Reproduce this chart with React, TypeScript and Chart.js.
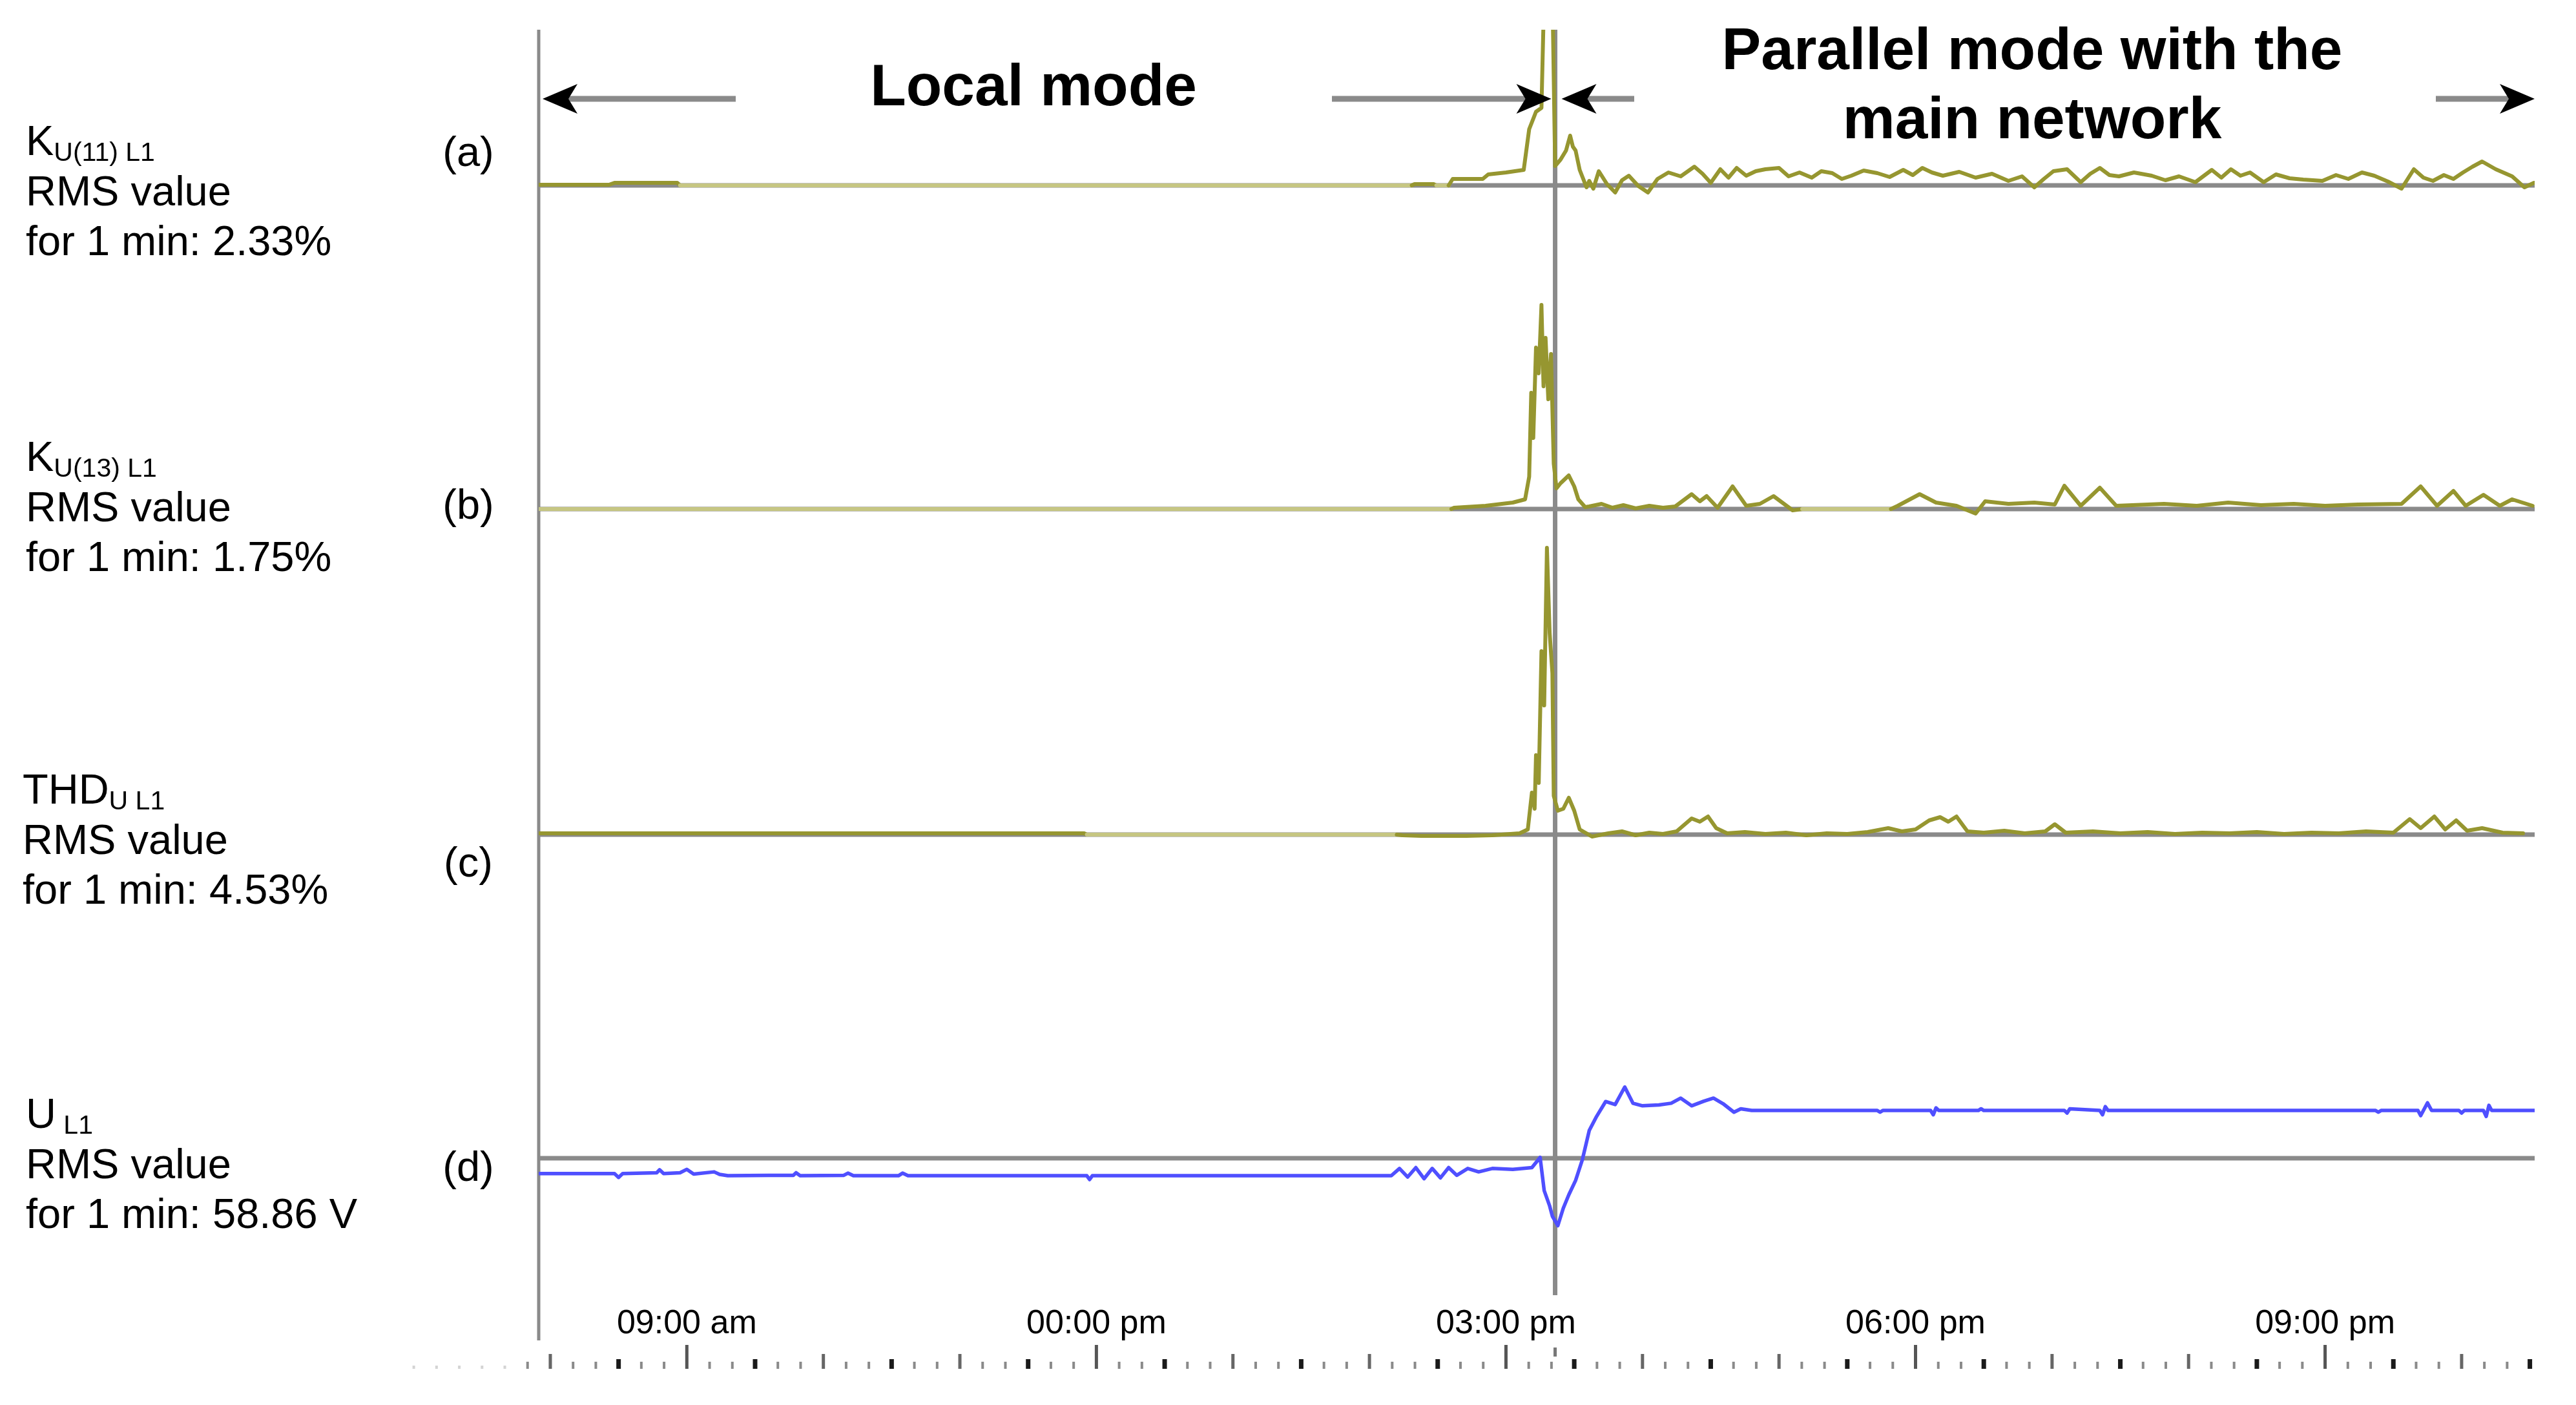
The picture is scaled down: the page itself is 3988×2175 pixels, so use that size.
import { useEffect, useRef } from 'react';
import { Chart, registerables } from 'chart.js';

Chart.register(...registerables);

// ---------------- data ----------------
const timeStart = 7.915; // hours (approx 07:55)
const timeEnd = 22.535; // hours (approx 22:32)
const switchHour = 15.36; // change from local mode to parallel mode

const tickHours = [9, 12, 15, 18, 21];
const tickLabels = ['09:00 am', '00:00 pm', '03:00 pm', '06:00 pm', '09:00 pm'];

const panelSymbols = ['K', 'K', 'THD', 'U'];
const panelSubs = ['U(11) L1', 'U(13) L1', 'U L1', ' L1'];
const panelRms = ['2.33%', '1.75%', '4.53%', '58.86 V'];
const panelTags = ['(a)', '(b)', '(c)', '(d)'];
const panelRefs = [1.0, 0.5, 1.5, 57.74]; // grey reference level of each trace

// (a) K_U(11) L1 [%]
const kU11Hours = [7.915, 8.43, 8.47, 8.93, 8.95, 14.31, 14.33, 14.47, 14.49, 14.58, 14.61, 14.83, 14.87, 15.0, 15.13, 15.17, 15.22, 15.26, 15.28, 15.34, 15.36, 15.4, 15.44, 15.47, 15.49, 15.51, 15.54, 15.59, 15.61, 15.64, 15.68, 15.74, 15.8, 15.85, 15.9, 15.97, 16.04, 16.11, 16.19, 16.28, 16.38, 16.44, 16.5, 16.57, 16.63, 16.69, 16.76, 16.83, 16.9, 17.0, 17.07, 17.15, 17.24, 17.31, 17.39, 17.46, 17.53, 17.62, 17.72, 17.81, 17.91, 17.98, 18.05, 18.12, 18.2, 18.32, 18.44, 18.56, 18.68, 18.78, 18.87, 18.94, 19.01, 19.11, 19.21, 19.28, 19.35, 19.42, 19.49, 19.6, 19.73, 19.83, 19.93, 20.05, 20.17, 20.24, 20.31, 20.38, 20.45, 20.55, 20.64, 20.74, 20.84, 20.98, 21.08, 21.17, 21.27, 21.36, 21.46, 21.56, 21.65, 21.72, 21.79, 21.87, 21.94, 22.01, 22.08, 22.15, 22.25, 22.37, 22.46, 22.53];
const kU11Values = [1.01, 1.01, 1.04, 1.04, 1.0, 1.0, 1.02, 1.02, 1.0, 1.0, 1.1, 1.1, 1.17, 1.2, 1.24, 1.87, 2.14, 2.2, 4.0, 4.0, 1.3, 1.4, 1.54, 1.77, 1.6, 1.54, 1.24, 0.97, 1.07, 0.95, 1.22, 1.02, 0.89, 1.08, 1.15, 0.99, 0.89, 1.1, 1.2, 1.14, 1.29, 1.18, 1.04, 1.25, 1.12, 1.27, 1.15, 1.22, 1.25, 1.27, 1.14, 1.2, 1.12, 1.22, 1.19, 1.1, 1.15, 1.23, 1.19, 1.13, 1.24, 1.16, 1.27, 1.2, 1.15, 1.21, 1.12, 1.18, 1.07, 1.14, 0.97, 1.1, 1.22, 1.25, 1.05, 1.18, 1.27, 1.16, 1.14, 1.2, 1.15, 1.08, 1.14, 1.05, 1.24, 1.12, 1.25, 1.15, 1.2, 1.05, 1.17, 1.11, 1.09, 1.07, 1.16, 1.1, 1.2, 1.15, 1.06, 0.95, 1.25, 1.12, 1.07, 1.16, 1.1, 1.2, 1.29, 1.37, 1.25, 1.14, 0.97, 1.04];

// (b) K_U(13) L1 [%]
const kU13Hours = [7.915, 14.6, 14.62, 14.85, 15.05, 15.14, 15.17, 15.185, 15.2, 15.22, 15.24, 15.26, 15.275, 15.29, 15.31, 15.33, 15.35, 15.37, 15.4, 15.46, 15.5, 15.53, 15.58, 15.61, 15.7, 15.78, 15.86, 15.95, 16.05, 16.15, 16.24, 16.36, 16.42, 16.47, 16.55, 16.66, 16.76, 16.86, 16.96, 17.1, 17.17, 17.82, 17.87, 18.03, 18.15, 18.3, 18.44, 18.51, 18.68, 18.87, 19.02, 19.09, 19.21, 19.35, 19.47, 19.82, 20.06, 20.29, 20.53, 20.77, 21.0, 21.24, 21.56, 21.7, 21.82, 21.94, 22.03, 22.16, 22.28, 22.37, 22.52];
const kU13Values = [0.5, 0.5, 0.52, 0.55, 0.6, 0.65, 1.0, 2.3, 1.6, 3.0, 2.6, 3.66, 2.4, 3.15, 2.2, 2.9, 1.2, 0.82, 0.9, 1.02, 0.85, 0.65, 0.53, 0.54, 0.58, 0.52, 0.56, 0.51, 0.55, 0.52, 0.54, 0.73, 0.62, 0.7, 0.52, 0.85, 0.55, 0.58, 0.7, 0.48, 0.5, 0.5, 0.55, 0.73, 0.6, 0.55, 0.43, 0.62, 0.58, 0.6, 0.57, 0.86, 0.55, 0.83, 0.55, 0.58, 0.55, 0.6, 0.56, 0.58, 0.55, 0.57, 0.58, 0.85, 0.55, 0.78, 0.55, 0.72, 0.55, 0.65, 0.55];

// (c) THD_U L1 [%]
const thdHours = [7.915, 11.91, 11.93, 14.2, 14.24, 14.38, 14.71, 14.9, 15.1, 15.16, 15.19, 15.21, 15.22, 15.24, 15.26, 15.28, 15.3, 15.32, 15.34, 15.35, 15.38, 15.42, 15.46, 15.5, 15.54, 15.63, 15.75, 15.85, 15.95, 16.05, 16.15, 16.25, 16.36, 16.42, 16.48, 16.54, 16.62, 16.75, 16.9, 17.05, 17.2, 17.35, 17.5, 17.65, 17.8, 17.9, 18.0, 18.1, 18.18, 18.24, 18.3, 18.38, 18.5, 18.65, 18.8, 18.95, 19.02, 19.1, 19.3, 19.5, 19.7, 19.9, 20.1, 20.3, 20.5, 20.7, 20.9, 21.1, 21.3, 21.5, 21.62, 21.7, 21.8, 21.88, 21.96, 22.04, 22.15, 22.3, 22.45];
const thdValues = [1.52, 1.52, 1.5, 1.5, 1.49, 1.48, 1.48, 1.49, 1.52, 1.58, 2.15, 1.9, 2.73, 2.3, 4.34, 3.5, 5.94, 4.62, 4.0, 2.1, 1.87, 1.9, 2.07, 1.87, 1.58, 1.47, 1.52, 1.55, 1.49, 1.53, 1.51, 1.55, 1.75, 1.7, 1.78, 1.6, 1.52, 1.54, 1.51, 1.53, 1.49, 1.52, 1.51, 1.54, 1.6, 1.55, 1.58, 1.72, 1.77, 1.7, 1.78, 1.55, 1.53, 1.56, 1.52, 1.55, 1.66, 1.53, 1.55, 1.52, 1.54, 1.51, 1.53, 1.52, 1.54, 1.51, 1.53, 1.52, 1.55, 1.53, 1.74, 1.6, 1.78, 1.58, 1.72, 1.56, 1.6, 1.53, 1.52];

// (d) U L1 [V]
const uHours = [7.915, 8.47, 8.5, 8.53, 8.78, 8.8, 8.83, 8.95, 9.0, 9.05, 9.2, 9.24, 9.3, 9.6, 9.78, 9.8, 9.83, 10.15, 10.18, 10.22, 10.55, 10.58, 10.62, 11.93, 11.95, 11.97, 14.16, 14.22, 14.28, 14.34, 14.4, 14.46, 14.52, 14.58, 14.64, 14.72, 14.8, 14.9, 15.05, 15.19, 15.25, 15.28, 15.32, 15.34, 15.38, 15.42, 15.46, 15.51, 15.56, 15.61, 15.66, 15.73, 15.8, 15.87, 15.93, 16.0, 16.12, 16.21, 16.28, 16.36, 16.45, 16.52, 16.59, 16.67, 16.72, 16.8, 17.72, 17.74, 17.76, 18.11, 18.13, 18.15, 18.17, 18.46, 18.48, 18.5, 19.09, 19.11, 19.13, 19.35, 19.37, 19.39, 19.41, 21.37, 21.39, 21.41, 21.68, 21.7, 21.75, 21.78, 21.98, 22.0, 22.02, 22.16, 22.18, 22.2, 22.22, 22.535];
const uValues = [57.38, 57.38, 57.29, 57.38, 57.4, 57.47, 57.38, 57.4, 57.48, 57.37, 57.42, 57.36, 57.33, 57.34, 57.34, 57.4, 57.33, 57.34, 57.39, 57.33, 57.33, 57.39, 57.33, 57.33, 57.24, 57.33, 57.33, 57.5, 57.3, 57.52, 57.26, 57.5, 57.28, 57.52, 57.34, 57.5, 57.42, 57.5, 57.48, 57.52, 57.76, 56.98, 56.62, 56.38, 56.16, 56.57, 56.88, 57.22, 57.71, 58.39, 58.7, 59.07, 59.0, 59.41, 59.03, 58.97, 58.99, 59.03, 59.15, 58.97, 59.08, 59.15, 59.02, 58.82, 58.9, 58.86, 58.86, 58.82, 58.86, 58.86, 58.76, 58.92, 58.86, 58.86, 58.9, 58.86, 58.86, 58.8, 58.9, 58.86, 58.76, 58.95, 58.86, 58.86, 58.82, 58.86, 58.86, 58.74, 59.04, 58.86, 58.86, 58.8, 58.86, 58.86, 58.72, 58.98, 58.86, 58.86];

// ---------------- layout / style ----------------
const W = 3988;
const H = 2175;
const AREA_TOP = 46;
const PAD_BOTTOM = 85;
const X_AXIS_H = 80.4;
const AREA_BOTTOM = H - PAD_BOTTOM - X_AXIS_H;
const FONT = '"Liberation Sans", Arial, Helvetica, sans-serif';
const GRAY = '#8a8a8a';
const OLIVE_LIGHT = '#c6c682';
const OLIVE_DARK = '#969630';
const BLUE = '#4f4fff';

const panelAxisIds = ['yA', 'yB', 'yC', 'yD'];
const panelBasePx = [287, 788, 1292, 1793];
const panelPxPerUnit = [100, 100, 100, 66];
const labelLine1 = [240, 729, 1244, 1746];
const labelX = [40, 40, 35, 40];
const tagBaseline = [257, 803, 1357, 1828];

function rangeFor(i: number) {
  const ref = panelRefs[i];
  const p = panelBasePx[i];
  const k = panelPxPerUnit[i];
  return { min: ref - (AREA_BOTTOM - p) / k, max: ref + (p - AREA_TOP) / k };
}

function pts(hs: number[], vs: number[]) {
  return hs.map((h, i) => ({ x: h, y: vs[i] }));
}

function oliveSet(label: string, hs: number[], vs: number[], i: number) {
  const ref = panelRefs[i];
  return {
    label,
    data: pts(hs, vs),
    yAxisID: panelAxisIds[i],
    borderColor: OLIVE_DARK,
    borderWidth: 6,
    pointRadius: 0,
    tension: 0,
    borderJoinStyle: 'round',
    borderCapStyle: 'round',
    segment: {
      borderColor: (ctx: any) =>
        ctx.p0.parsed.y === ref && ctx.p1.parsed.y === ref ? OLIVE_LIGHT : OLIVE_DARK,
    },
  };
}

function arrowHead(ctx: CanvasRenderingContext2D, tipX: number, y: number, dir: number) {
  const L = 54;
  const HH = 23;
  const N = 14;
  ctx.beginPath();
  ctx.moveTo(tipX, y);
  ctx.lineTo(tipX - dir * L, y - HH);
  ctx.lineTo(tipX - dir * (L - N), y);
  ctx.lineTo(tipX - dir * L, y + HH);
  ctx.closePath();
  ctx.fill();
}

const overlayPlugin = {
  id: 'overlay',
  beforeDatasetsDraw(chart: any) {
    const { ctx, chartArea, scales } = chart;
    ctx.save();
    ctx.strokeStyle = GRAY;
    ctx.lineWidth = 7;
    panelAxisIds.forEach((id, i) => {
      const y = scales[id].getPixelForValue(panelRefs[i]);
      ctx.beginPath();
      ctx.moveTo(chartArea.left, y);
      ctx.lineTo(chartArea.right, y);
      ctx.stroke();
    });
    ctx.lineWidth = 5;
    ctx.beginPath();
    ctx.moveTo(chartArea.left, chartArea.top);
    ctx.lineTo(chartArea.left, 2075);
    ctx.stroke();
    const sx = scales.x.getPixelForValue(switchHour);
    ctx.lineWidth = 7;
    ctx.beginPath();
    ctx.moveTo(sx, chartArea.top);
    ctx.lineTo(sx, 2005);
    ctx.stroke();
    ctx.restore();
  },
  afterDraw(chart: any) {
    const { ctx, chartArea, scales } = chart;
    const xs = scales.x;
    const sx = xs.getPixelForValue(switchHour);
    ctx.save();

    // mode arrows
    const ay = 153;
    ctx.strokeStyle = GRAY;
    ctx.lineWidth = 9;
    const segs: [number, number][] = [
      [chartArea.left + 30, 1139],
      [2062, sx - 32],
      [sx + 34, 2530],
      [3771, chartArea.right - 30],
    ];
    segs.forEach(([a, b]) => {
      ctx.beginPath();
      ctx.moveTo(a, ay);
      ctx.lineTo(b, ay);
      ctx.stroke();
    });
    ctx.fillStyle = '#000';
    arrowHead(ctx, chartArea.left + 6, ay, -1);
    arrowHead(ctx, sx - 6, ay, 1);
    arrowHead(ctx, sx + 10, ay, -1);
    arrowHead(ctx, chartArea.right, ay, 1);

    // mode titles
    ctx.fillStyle = '#000';
    ctx.textBaseline = 'alphabetic';
    ctx.textAlign = 'center';
    ctx.font = `bold 91px ${FONT}`;
    ctx.fillText('Local mode', 1600, 163);
    ctx.fillText('Parallel mode with the', 3146, 107);
    ctx.fillText('main network', 3146, 214);

    // panel labels
    ctx.textAlign = 'left';
    panelSymbols.forEach((sym, i) => {
      const x = labelX[i];
      const b = labelLine1[i];
      ctx.font = `65px ${FONT}`;
      ctx.fillText(sym, x, b);
      const w = ctx.measureText(sym).width;
      ctx.font = `41px ${FONT}`;
      ctx.fillText(panelSubs[i], x + w, b + 9);
      ctx.font = `65px ${FONT}`;
      ctx.fillText('RMS value', x, b + 77.5);
      ctx.fillText('for 1 min: ' + panelRms[i], x, b + 155);
    });
    ctx.textAlign = 'center';
    panelTags.forEach((t, i) => {
      ctx.fillText(t, 725, tagBaseline[i]);
    });

    // time ruler (10 min ticks)
    const rb = 2119;
    for (let m = 420; m <= 1350; m += 10) {
      const x = xs.getPixelForValue(m / 60);
      let h = 11;
      let w = 4;
      let c = '#8a8a8a';
      if (m < 470) {
        h = 5; w = 4; c = '#d4d4d4';
      } else if (m % 180 === 0) {
        h = 37; w = 5; c = '#555';
      } else if (m % 60 === 0) {
        h = 23; w = 5; c = '#666';
      } else if (m % 30 === 0) {
        h = 15; w = 7; c = '#1a1a1a';
      }
      ctx.fillStyle = c;
      ctx.fillRect(x - w / 2, rb - h, w, h);
    }
    ctx.fillStyle = '#777';
    ctx.fillRect(sx - 2.5, 2086, 5, 14);
    ctx.restore();
  },
};

export default function App() {
  const ref = useRef<HTMLCanvasElement>(null);
  useEffect(() => {
    if (!ref.current) return;
    Chart.defaults.font.family = FONT;
    const yScales: any = {};
    panelAxisIds.forEach((id, i) => {
      yScales[id] = { type: 'linear', display: false, bounds: 'data', ...rangeFor(i) };
    });
    const chart = new Chart(ref.current, {
      type: 'line',
      data: {
        datasets: [
          oliveSet('K U(11) L1', kU11Hours, kU11Values, 0),
          oliveSet('K U(13) L1', kU13Hours, kU13Values, 1),
          oliveSet('THD U L1', thdHours, thdValues, 2),
          {
            label: 'U L1',
            data: pts(uHours, uValues),
            yAxisID: 'yD',
            borderColor: BLUE,
            borderWidth: 5.5,
            pointRadius: 0,
            tension: 0,
            borderJoinStyle: 'round',
            borderCapStyle: 'round',
          },
        ] as any,
      },
      options: {
        responsive: false,
        maintainAspectRatio: false,
        animation: false,
        layout: { padding: { left: 834, right: W - 3924, top: AREA_TOP, bottom: PAD_BOTTOM } },
        plugins: { legend: { display: false }, tooltip: { enabled: false } },
        scales: {
          x: {
            type: 'linear',
            bounds: 'data',
            min: timeStart,
            max: timeEnd,
            grid: { display: false, drawTicks: false },
            border: { display: false },
            afterBuildTicks: (axis: any) => {
              axis.ticks = tickHours.map((v) => ({ value: v }));
            },
            afterFit: (axis: any) => {
              axis.height = X_AXIS_H;
            },
            ticks: {
              autoSkip: false,
              maxRotation: 0,
              minRotation: 0,
              padding: 9,
              color: '#000',
              font: { size: 52, family: FONT },
              callback: (v: any) => {
                const i = tickHours.indexOf(Number(v));
                return i >= 0 ? tickLabels[i] : '';
              },
            },
          },
          ...yScales,
        },
      } as any,
      plugins: [overlayPlugin],
    });
    return () => chart.destroy();
  }, []);
  return (
    <div style={{ position: 'absolute', left: 0, top: 0, width: W, height: H, background: '#fff' }}>
      <canvas ref={ref} width={W} height={H} style={{ display: 'block', width: W, height: H }} />
    </div>
  );
}
